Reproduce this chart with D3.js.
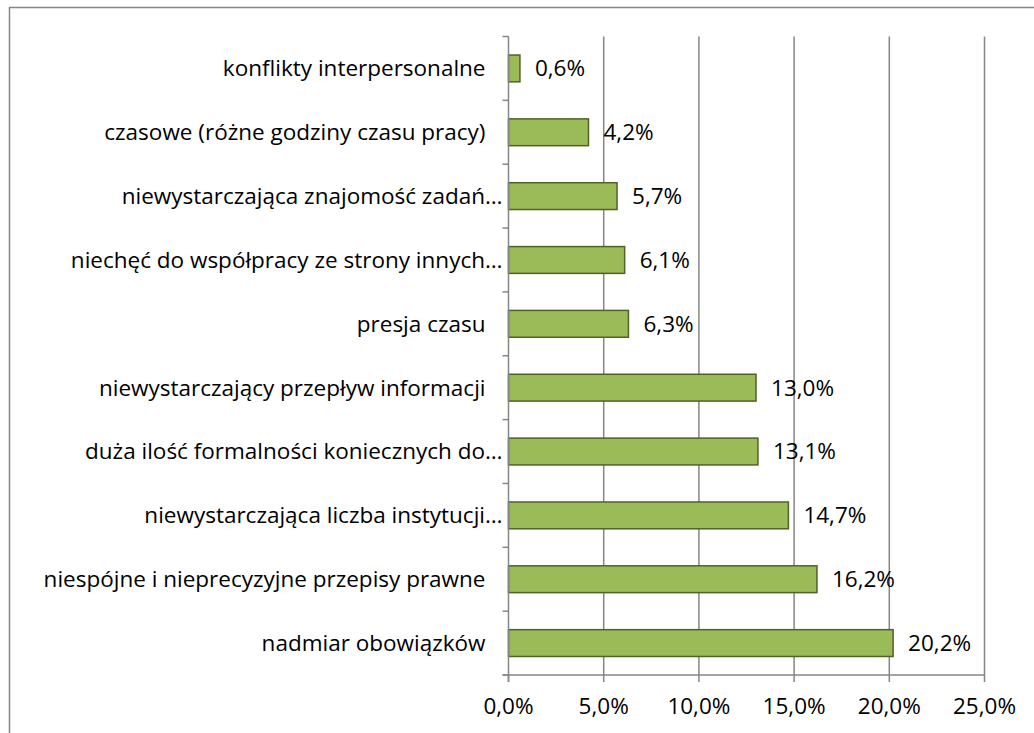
<!DOCTYPE html>
<html>
<head>
<meta charset="utf-8">
<script src="https://cdn.jsdelivr.net/npm/d3@7"></script>
<style>
  html, body { margin: 0; padding: 0; background: #fff; }
  svg { display: block; font-family: "Open Sans", Lato, sans-serif; }
</style>
</head>
<body>
<div id="chart"></div>
<script>
// ---- data (top → bottom as drawn) ----
var categories = [
  "konflikty interpersonalne",
  "czasowe (różne godziny czasu pracy)",
  "niewystarczająca znajomość zadań…",
  "niechęć do współpracy ze strony innych…",
  "presja czasu",
  "niewystarczający przepływ informacji",
  "duża ilość formalności koniecznych do…",
  "niewystarczająca liczba instytucji…",
  "niespójne i nieprecyzyjne przepisy prawne",
  "nadmiar obowiązków"
];
var values = [0.6, 4.2, 5.7, 6.1, 6.3, 13.0, 13.1, 14.7, 16.2, 20.2];
var xTicks = [0, 5, 10, 15, 20, 25];

(function () {
  var W = 1034, H = 733;
  var pL = 508.5, pR = 984.5, pT = 36.5, pB = 675;
  var FS = 22.5;
  var fmt = function (v) { return v.toFixed(1).replace(".", ",") + "%"; };

  var svg = d3.select("#chart").append("svg").attr("width", W).attr("height", H);

  // chart border (runs off the right/bottom edge like the reference)
  svg.append("rect")
    .attr("x", 9.5).attr("y", 7.5).attr("width", W + 20).attr("height", H + 20)
    .attr("fill", "#fff").attr("stroke", "#868686").attr("stroke-width", 1.5);

  var x = d3.scaleLinear().domain([0, 25]).range([pL, pR]);
  var y = d3.scaleBand().domain(categories).range([pT, pB])
    .paddingInner(0.58).paddingOuter(0.29);
  var step = y.step();

  // ---- vertical gridlines ----
  svg.append("g").selectAll("line").data(xTicks.slice(1)).enter().append("line")
    .attr("x1", function (d) { return x(d); }).attr("x2", function (d) { return x(d); })
    .attr("y1", pT).attr("y2", pB)
    .attr("stroke", "#868686").attr("stroke-width", 1.5);

  // ---- bars ----
  svg.append("g").selectAll("rect").data(values).enter().append("rect")
    .attr("x", x(0))
    .attr("y", function (d, i) { return y(categories[i]); })
    .attr("width", function (d) { return x(d) - x(0); })
    .attr("height", y.bandwidth())
    .attr("fill", "#9BBB59").attr("stroke", "#4F6228").attr("stroke-width", 1.5);

  // ---- value labels ----
  svg.append("g").selectAll("text").data(values).enter().append("text")
    .attr("x", function (d) { return x(d) + 15; })
    .attr("y", function (d, i) { return y(categories[i]) + y.bandwidth() / 2; })
    .attr("dy", "0.35em")
    .attr("font-size", FS).attr("fill", "#000")
    .text(fmt);

  // ---- y axis: line + boundary ticks + labels ----
  var yAx = svg.append("g");
  yAx.append("line").attr("x1", pL).attr("x2", pL).attr("y1", pT).attr("y2", pB + 7)
    .attr("stroke", "#868686").attr("stroke-width", 1.5);
  yAx.selectAll("line.tk").data(d3.range(categories.length + 1)).enter().append("line")
    .attr("class", "tk")
    .attr("x1", pL - 6).attr("x2", pL)
    .attr("y1", function (i) { return pT + i * step; })
    .attr("y2", function (i) { return pT + i * step; })
    .attr("stroke", "#868686").attr("stroke-width", 1.5);
  yAx.selectAll("text").data(categories).enter().append("text")
    .attr("x", function (d) { return d.slice(-1) === "…" ? pL - 6 : pL - 23; })
    .attr("y", function (d) { return y(d) + y.bandwidth() / 2; })
    .attr("dy", "0.35em")
    .attr("text-anchor", "end")
    .attr("font-size", FS).attr("fill", "#000")
    .text(function (d) { return d; });

  // ---- x axis ----
  var xAx = svg.append("g");
  xAx.append("line").attr("x1", pL - 6).attr("x2", pR).attr("y1", pB).attr("y2", pB)
    .attr("stroke", "#868686").attr("stroke-width", 1.5);
  xAx.selectAll("line.tk").data(xTicks).enter().append("line")
    .attr("class", "tk")
    .attr("x1", function (d) { return x(d); }).attr("x2", function (d) { return x(d); })
    .attr("y1", pB).attr("y2", pB + 7)
    .attr("stroke", "#868686").attr("stroke-width", 1.5);
  xAx.selectAll("text").data(xTicks).enter().append("text")
    .attr("x", function (d) { return x(d); })
    .attr("y", 714)
    .attr("text-anchor", "middle")
    .attr("font-size", FS).attr("fill", "#000")
    .text(fmt);
})();
</script>
</body>
</html>
